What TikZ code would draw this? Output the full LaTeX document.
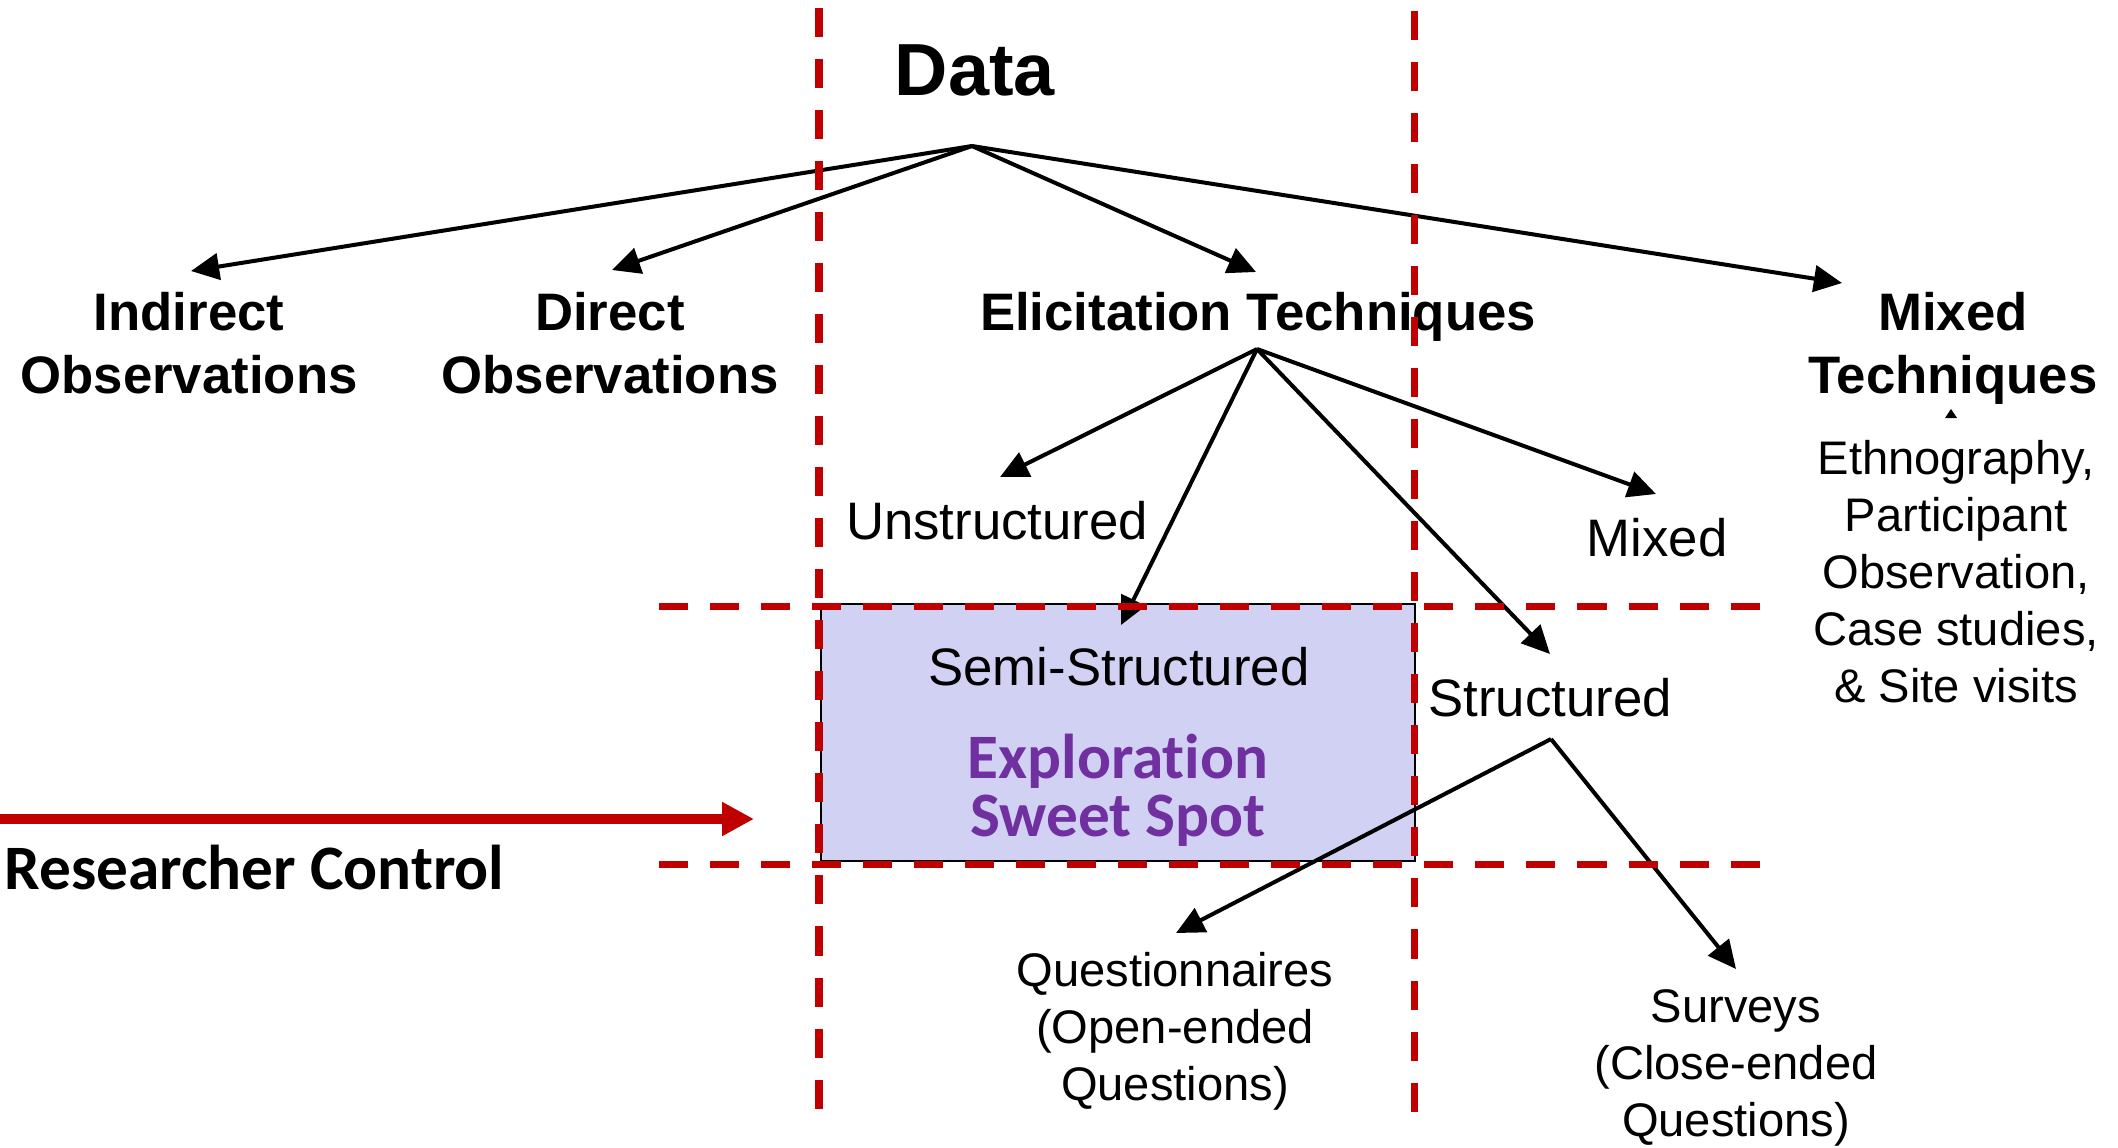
\documentclass[tikz,border=0pt]{standalone}
\usepackage{fontspec}
\setmainfont{Liberation Sans}
\newfontfamily\calib[Ligatures=NoCommon]{Carlito}
\usetikzlibrary{arrows.meta}
\definecolor{ctrlred}{RGB}{192,0,0}
\definecolor{spotfill}{RGB}{209,209,243}
\definecolor{spotpurple}{RGB}{112,48,160}

\begin{document}
\begin{tikzpicture}[x=0.01cm,y=-0.01cm,
  lbl/.style={inner sep=0pt, align=center},
  head/.style={font=\bfseries\fontsize{15}{18}\selectfont},
  sub/.style={font=\fontsize{15}{18}\selectfont},
  small/.style={font=\fontsize{13.4}{16.2}\selectfont},
  branch/.style={line width=1.14pt, -{Triangle[length=8pt,width=7.5pt]}},
  guide/.style={draw=ctrlred, line width=2pt, dash pattern=on 8.25pt off 6.26pt}
]
\useasboundingbox (0,0) rectangle (2118,1147);

% exploration sweet spot region
\filldraw[fill=spotfill, draw=black, line width=0.45pt] (821,604) rectangle (1415,861);

% labels
\node[lbl, font=\bfseries\fontsize{21}{25}\selectfont] (data) at (975,70) {Data};
\node[lbl, head] (indirect) at (189,343) {Indirect\\Observations};
\node[lbl, head] (direct) at (610,343) {Direct\\Observations};
\node[lbl, head] (elicit) at (1258,317) {Elicitation Techniques};
\node[lbl, head] (mixedtech) at (1953,348) {Mixed\\Techniques};
\node[lbl, small] (ethno) at (1956,572) {Ethnography,\\Participant\\Observation,\\Case studies,\\\& Site visits};
\node[lbl, sub] (unstr) at (997,521) {Unstructured};
\node[lbl, sub] (mixed) at (1657,538) {Mixed};
\node[lbl, sub] (semi) at (1119,667) {Semi-Structured};
\node[lbl, sub] (struct) at (1550,698) {Structured};
\node[lbl, font=\calib\bfseries\fontsize{18}{16.4}\selectfont, text=spotpurple] (spot) at (1118,790) {Exploration\\Sweet Spot};
\node[lbl, anchor=west, font=\calib\bfseries\fontsize{18}{22}\selectfont] (ctrl) at (4,867) {Researcher Control};
\node[lbl, small] (quest) at (1175,1031) {Questionnaires\\(Open-ended\\Questions)};
\node[lbl, small] (surv) at (1736,1068) {Surveys\\(Close-ended\\Questions)};

% branching points and arrow ends
\coordinate (dapex) at (972,146);
\coordinate (eapex) at (1257,349);
\coordinate (sapex) at (1551,739);
\coordinate (tindirect) at (191,271);
\coordinate (tdirect) at (612,270);
\coordinate (telicit) at (1256,272);
\coordinate (tmixedtech) at (1842,283);
\coordinate (tunstr) at (1000,477);
\coordinate (tsemi) at (1121,625);
\coordinate (tstruct) at (1550,654);
\coordinate (tmixed) at (1656,494);
\coordinate (tquest) at (1176,933);
\coordinate (tsurv) at (1736,969);

% tree of techniques
\draw[branch] (dapex) -- (tindirect);
\draw[branch] (dapex) -- (tdirect);
\draw[branch] (dapex) -- (telicit);
\draw[branch] (dapex) -- (tmixedtech);
\draw[branch] (eapex) -- (tunstr);
\draw[branch] (eapex) -- (tsemi);
\draw[branch] (eapex) -- (tstruct);
\draw[branch] (eapex) -- (tmixed);
\draw[branch] (sapex) -- (tquest);
\draw[branch] (sapex) -- (tsurv);

% small marker under Mixed Techniques
\fill (1945,418) -- (1951,409) -- (1957,418) -- cycle;

% researcher control arrow
\coordinate (ctrlstart) at (0,819);
\coordinate (ctrlend) at (754,819);
\draw[ctrlred, line width=3.1pt, -{Triangle[length=9.1pt,width=9.1pt]}] (ctrlstart) -- (ctrlend);

% red guide lines
\draw[guide] (819,8) -- (819,1116);
\draw[guide] (1414,11) -- (1414,1118);
\draw[guide] (659,606) -- (1767,606);
\draw[guide] (659,864) -- (1767,864);
\end{tikzpicture}
\end{document}
